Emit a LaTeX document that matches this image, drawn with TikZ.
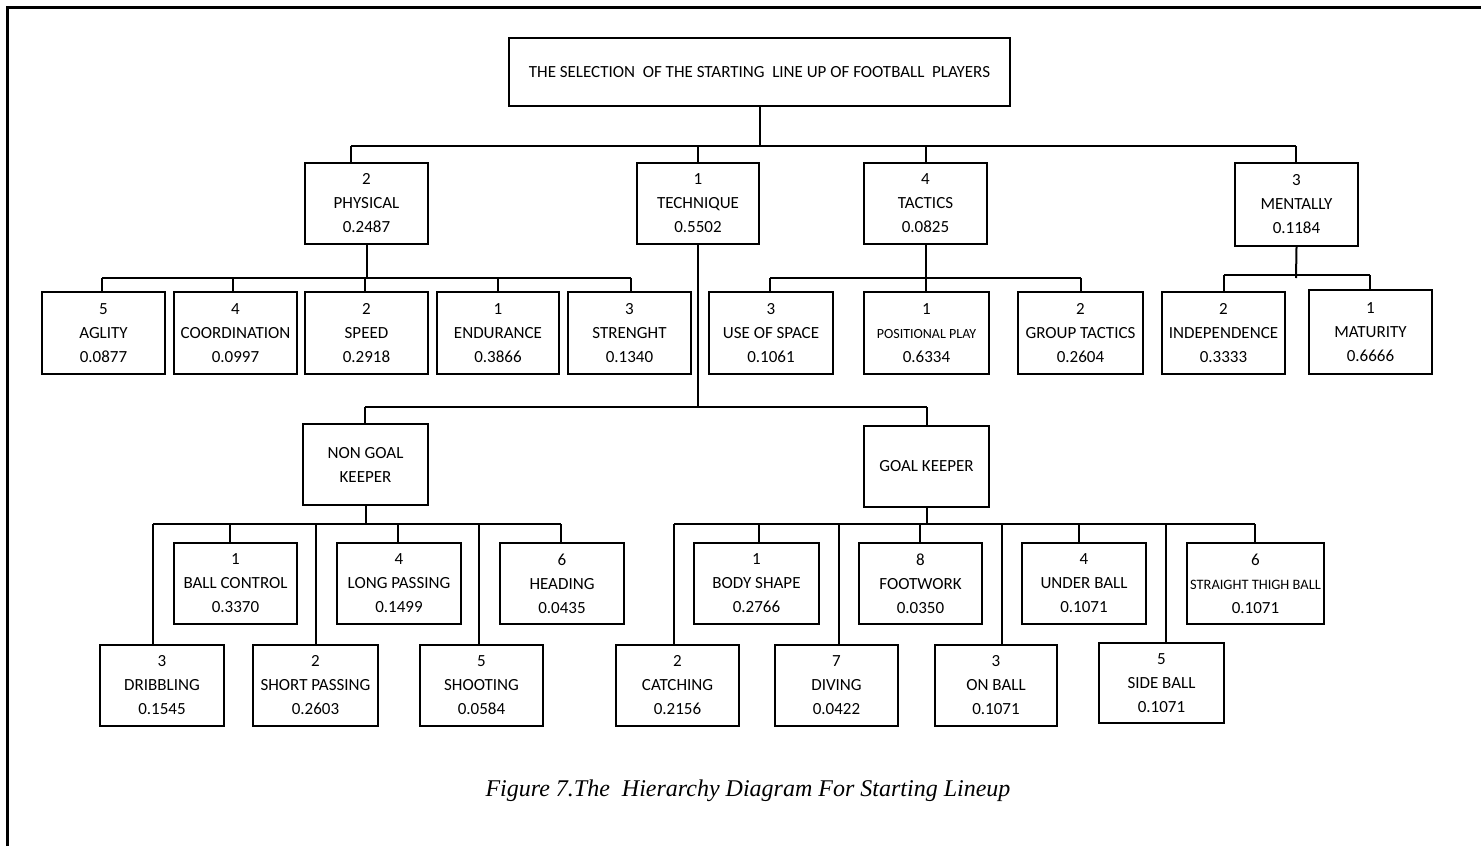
\documentclass[tikz,border=0pt]{standalone}
\usepackage{fontspec}
\setmainfont{Carlito}
\newfontfamily\capfont{Liberation Serif}
\tikzset{
  box/.style={draw, line width=1pt, inner sep=0pt, align=center, font=\fontsize{8.5}{12}\selectfont},
  conn/.style={line width=1pt},
  frame/.style={line width=1.5pt}
}
\newcommand\mybox[6]{\node[box, minimum width={(#4-#2)*0.5pt}, minimum height={(#5-#3)*0.5pt}] (#1) at ({(#2+#4)/2},{(#3+#5)/2}) {#6};}
\newcommand\mystem[3]{\coordinate (s#1) at (#2,#3); \draw[conn] (s#1) -- (s#1 |- #1.north);}
\begin{document}
\begin{tikzpicture}[x=0.5pt,y=-0.5pt]
\useasboundingbox (0,0) rectangle (1481,846);
\draw[frame] (7,846) -- (7,7) -- (1481,7);

% root
\mybox{root}{509}{38}{1010}{106}{THE SELECTION\ \ OF THE STARTING\ \ LINE UP OF FOOTBALL\ \ PLAYERS}

% level 1
\mybox{phys}{305}{163}{428}{244}{2\\PHYSICAL\\0.2487}
\mybox{tech}{637}{163}{759}{244}{1\\TECHNIQUE\\0.5502}
\mybox{tact}{864}{163}{987}{244}{4\\TACTICS\\0.0825}
\mybox{ment}{1235}{163}{1358}{246}{3\\MENTALLY\\0.1184}

% physical children
\mybox{agl}{42}{292}{165}{374}{5\\AGLITY\\0.0877}
\mybox{coo}{174}{292}{297}{374}{4\\COORDINATION\\0.0997}
\mybox{spd}{305}{292}{428}{374}{2\\SPEED\\0.2918}
\mybox{endu}{437}{292}{559}{374}{1\\ENDURANCE\\0.3866}
\mybox{str}{568}{292}{691}{374}{3\\STRENGHT\\0.1340}

% tactics children
\mybox{use}{709}{292}{833}{374}{3\\USE OF SPACE\\0.1061}
\mybox{pos}{864}{292}{989}{374}{1\\{\fontsize{7}{10}\selectfont POSITIONAL PLAY}\\0.6334}
\mybox{grp}{1018}{292}{1143}{374}{2\\GROUP TACTICS\\0.2604}

% mentally children
\mybox{ind}{1162}{292}{1285}{374}{2\\INDEPENDENCE\\0.3333}
\mybox{mat}{1309}{290}{1432}{374}{1\\MATURITY\\0.6666}

% technique children
\mybox{ngk}{303}{424}{428}{505}{NON GOAL\\KEEPER}
\mybox{gk}{864}{426}{989}{507}{GOAL KEEPER}

% non goal keeper children
\mybox{bc}{174}{543}{297}{624}{1\\BALL CONTROL\\0.3370}
\mybox{lp}{337}{543}{461}{624}{4\\LONG PASSING\\0.1499}
\mybox{hd}{500}{543}{624}{624}{6\\HEADING\\0.0435}
\mybox{dr}{100}{645}{224}{726}{3\\DRIBBLING\\0.1545}
\mybox{sp}{253}{645}{378}{726}{2\\SHORT PASSING\\0.2603}
\mybox{sh}{420}{645}{543}{726}{5\\SHOOTING\\0.0584}

% goal keeper children
\mybox{bs}{694}{543}{819}{624}{1\\BODY SHAPE\\0.2766}
\mybox{fw}{859}{543}{982}{624}{8\\FOOTWORK\\0.0350}
\mybox{ub}{1022}{543}{1146}{624}{4\\UNDER BALL\\0.1071}
\mybox{stb}{1187}{543}{1324}{624}{6\\{\fontsize{7.2}{10}\selectfont STRAIGHT THIGH BALL}\\0.1071}
\mybox{ca}{616}{645}{739}{726}{2\\CATCHING\\0.2156}
\mybox{dv}{775}{645}{898}{726}{7\\DIVING\\0.0422}
\mybox{ob}{935}{645}{1057}{726}{3\\ON BALL\\0.1071}
\mybox{sb}{1099}{643}{1224}{723}{5\\SIDE BALL\\0.1071}

% connectors: root -> level 1
\coordinate (bus1L) at (351,146);
\coordinate (bus1R) at (1296,146);
\draw[conn] (root.south) -- (root.south |- bus1L);
\draw[conn] (bus1L) -- (bus1R);
\mystem{phys}{351}{146}
\mystem{tech}{698}{146}
\mystem{tact}{926}{146}
\mystem{ment}{1296}{146}

% physical
\coordinate (busP) at (365,278);
\draw[conn] (phys.south) -- (phys.south |- busP);
\mystem{agl}{102}{278}
\mystem{coo}{233}{278}
\mystem{spd}{365}{278}
\mystem{endu}{498}{278}
\mystem{str}{631}{278}
\draw[conn] (sagl) -- (sstr);

% tactics
\coordinate (busT) at (926,278);
\draw[conn] (tact.south) -- (tact.south |- busT);
\mystem{use}{770}{278}
\mystem{pos}{926}{278}
\mystem{grp}{1081}{278}
\draw[conn] (suse) -- (sgrp);

% mentally
\coordinate (busM) at (1296,278);
\draw[conn] (ment.south) -- (busM);
\mystem{ind}{1224}{275}
\mystem{mat}{1370}{275}
\draw[conn] (sind) -- (smat);

% technique
\coordinate (busX) at (698,407);
\draw[conn] (tech.south) -- (busX);
\mystem{ngk}{365}{407}
\mystem{gk}{927}{407}
\draw[conn] (sngk) -- (sgk);

% non goal keeper
\coordinate (busN) at (365,524);
\draw[conn] (ngk.south) -- (ngk.south |- busN);
\mystem{dr}{153}{524}
\mystem{bc}{230}{524}
\mystem{sp}{316}{524}
\mystem{lp}{398}{524}
\mystem{sh}{479}{524}
\mystem{hd}{561}{524}
\draw[conn] (sdr) -- (shd);

% goal keeper
\coordinate (busG) at (927,524);
\draw[conn] (gk.south) -- (gk.south |- busG);
\mystem{ca}{674}{524}
\mystem{bs}{759}{524}
\mystem{dv}{839}{524}
\mystem{fw}{920}{524}
\mystem{ob}{1002}{524}
\mystem{ub}{1079}{524}
\mystem{sb}{1166}{524}
\mystem{stb}{1255}{524}
\draw[conn] (sca) -- (sstb);

% caption
\node[font=\capfont\itshape\fontsize{12}{14}\selectfont] (cap) at (748,791) {Figure 7.The\ \ Hierarchy Diagram For Starting Lineup};
\end{tikzpicture}
\end{document}
